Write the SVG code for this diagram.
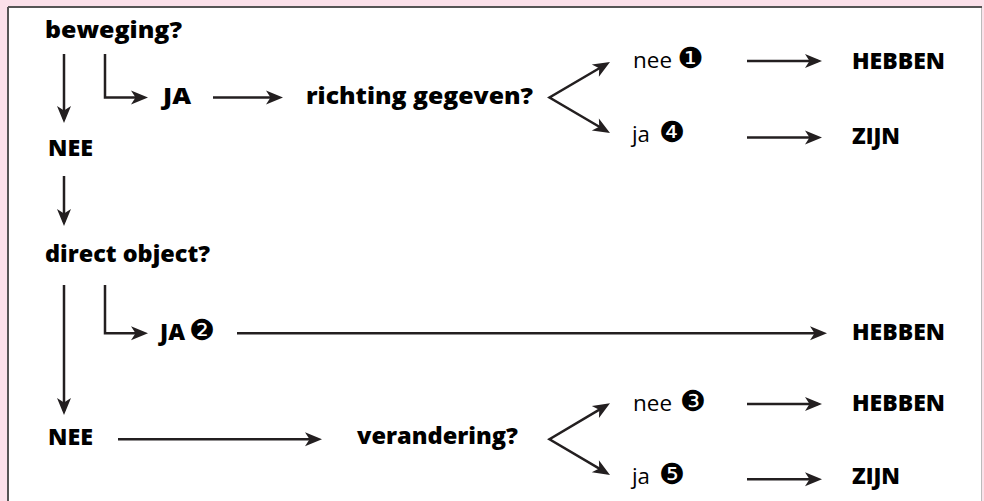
<svg xmlns="http://www.w3.org/2000/svg" width="984" height="501" viewBox="0 0 984 501">
<defs>
<style>
.b{font-family:"Open Sans","DejaVu Sans",sans-serif;font-weight:800;font-size:22.5px;fill:#000}
.r{font-family:"Open Sans","DejaVu Sans",sans-serif;font-weight:400;font-size:21px;fill:#000}
.d{font-family:"DejaVu Sans",sans-serif;font-size:29px;font-weight:400}
.c path{fill:none;stroke:#231f20;stroke-width:2.5;stroke-linecap:butt;stroke-linejoin:miter}
.c .a{marker-end:url(#ah)}
.c .f{marker-start:url(#ah);marker-end:url(#ah)}
</style>
<marker id="ah" viewBox="-18 -8 22 16" refX="-4" refY="0" markerWidth="22" markerHeight="16" markerUnits="userSpaceOnUse" orient="auto-start-reverse">
<path d="M0,0 L-17,-7 L-12.5,0 L-17,7 Z" fill="#231f20" stroke="none"/>
</marker>
</defs>
<rect x="0" y="0" width="984" height="501" fill="#fbe1ea"/>
<rect x="8" y="7" width="974" height="500" fill="#fff"/>
<line x1="8" y1="7" x2="982" y2="7" stroke="#555" stroke-width="2"/>
<line x1="8" y1="7" x2="8" y2="501" stroke="#555" stroke-width="2"/>
<line x1="981.5" y1="8" x2="981.5" y2="501" stroke="#bbb" stroke-width="1"/>

<g id="connectors" class="c">
<path class="a" d="M64,54 V119"/>
<path class="a" d="M105,54 V97.5 H144"/>
<path class="a" d="M213,97.5 H279"/>
<path class="f" d="M606.55,64.03 L549.5,97.5 L606.55,131"/>
<path class="a" d="M747,61 H818"/>
<path class="a" d="M747,137.5 H818"/>
<path class="a" d="M64,176 V222"/>
<path class="a" d="M64,285 V411"/>
<path class="a" d="M105,285 V333.3 H144"/>
<path class="a" d="M237,333.3 H823"/>
<path class="a" d="M118,439.3 H318"/>
<path class="f" d="M606.55,405.35 L549.5,439.3 L606.55,472.9"/>
<path class="a" d="M747,404 H818"/>
<path class="a" d="M747,479.3 H818"/>
</g>

<g id="n-beweging"><text class="b" x="45" y="38" textLength="137" lengthAdjust="spacingAndGlyphs">beweging?</text></g>
<g id="n-ja1"><text class="b" x="163" y="104" textLength="28" lengthAdjust="spacingAndGlyphs">JA</text></g>
<g id="n-richting"><text class="b" x="306" y="104" textLength="227" lengthAdjust="spacingAndGlyphs">richting gegeven?</text></g>
<g id="n-nee1"><text class="r" x="633" y="68"><tspan textLength="39" lengthAdjust="spacingAndGlyphs">nee</tspan><tspan class="d" x="677.5">❶</tspan></text></g>
<g id="n-ja4"><text class="r" x="632" y="142"><tspan textLength="18" lengthAdjust="spacingAndGlyphs">ja</tspan><tspan class="d" x="659">❹</tspan></text></g>
<g id="n-hebben1"><text class="b" x="852" y="68.5" textLength="93" lengthAdjust="spacingAndGlyphs">HEBBEN</text></g>
<g id="n-zijn1"><text class="b" x="852" y="143.5" textLength="48" lengthAdjust="spacingAndGlyphs">ZIJN</text></g>
<g id="n-nee-a"><text class="b" x="48" y="156" textLength="45" lengthAdjust="spacingAndGlyphs">NEE</text></g>
<g id="n-direct"><text class="b" x="45" y="262" textLength="165" lengthAdjust="spacingAndGlyphs">direct object?</text></g>
<g id="n-ja2"><text class="b" x="160" y="340"><tspan textLength="25" lengthAdjust="spacingAndGlyphs">JA</tspan><tspan class="d" x="189">❷</tspan></text></g>
<g id="n-hebben2"><text class="b" x="852" y="339.5" textLength="93" lengthAdjust="spacingAndGlyphs">HEBBEN</text></g>
<g id="n-nee-b"><text class="b" x="48" y="445" textLength="45" lengthAdjust="spacingAndGlyphs">NEE</text></g>
<g id="n-verandering"><text class="b" x="357" y="443.5" textLength="161" lengthAdjust="spacingAndGlyphs">verandering?</text></g>
<g id="n-nee3"><text class="r" x="633" y="410.5"><tspan textLength="39" lengthAdjust="spacingAndGlyphs">nee</tspan><tspan class="d" x="680">❸</tspan></text></g>
<g id="n-ja5"><text class="r" x="632" y="483.5"><tspan textLength="18" lengthAdjust="spacingAndGlyphs">ja</tspan><tspan class="d" x="659">❺</tspan></text></g>
<g id="n-hebben3"><text class="b" x="852" y="411" textLength="93" lengthAdjust="spacingAndGlyphs">HEBBEN</text></g>
<g id="n-zijn2"><text class="b" x="852" y="484" textLength="48" lengthAdjust="spacingAndGlyphs">ZIJN</text></g>
</svg>
